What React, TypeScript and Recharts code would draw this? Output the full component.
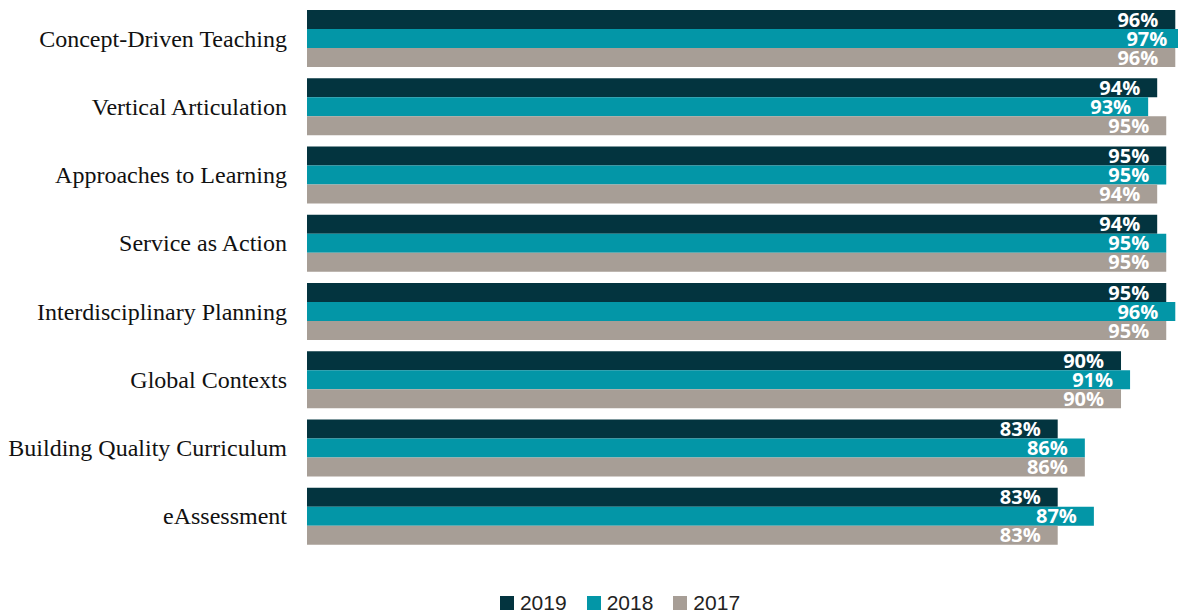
import { BarChart, Bar, XAxis, YAxis, Legend, LabelList } from 'recharts'

const categories = [
  'Concept-Driven Teaching',
  'Vertical Articulation',
  'Approaches to Learning',
  'Service as Action',
  'Interdisciplinary Planning',
  'Global Contexts',
  'Building Quality Curriculum',
  'eAssessment',
]
const y2019 = [96, 94, 95, 94, 95, 90, 83, 83]
const y2018 = [97, 93, 95, 95, 96, 91, 86, 87]
const y2017 = [96, 95, 94, 95, 95, 90, 86, 83]

const series = [
  { key: 'y2019', name: '2019', color: '#03343f' },
  { key: 'y2018', name: '2018', color: '#0396a7' },
  { key: 'y2017', name: '2017', color: '#a79e96' },
]

const data = categories.map((name, i) => ({
  name,
  y2019: y2019[i],
  y2018: y2018[i],
  y2017: y2017[i],
}))

function LegendBox() {
  return (
    <div style={{
      display: 'flex', justifyContent: 'center', alignItems: 'center', gap: 20,
      paddingLeft: 62, marginTop: 3,
      fontFamily: 'Liberation Sans, Arial, sans-serif', fontSize: 21, color: '#222',
    }}>
      {series.map((s) => (
        <div key={s.key} style={{ display: 'flex', alignItems: 'center', gap: 6 }}>
          <span style={{ width: 14, height: 14, background: s.color, display: 'inline-block' }} />
          <span>{s.name}</span>
        </div>
      ))}
    </div>
  )
}

export default function App() {
  return (
    <div style={{ position: 'absolute', left: 0, top: 0, background: '#fff' }}>
      <BarChart
        width={1178}
        height={612}
        data={data}
        layout="vertical"
        margin={{ top: 4, right: 0, left: 0, bottom: 38 }}
        barCategoryGap={6}
        barGap={0}
      >
        <XAxis type="number" hide domain={[0, 96.3]} allowDataOverflow />
        <YAxis
          type="category"
          dataKey="name"
          width={307}
          axisLine={false}
          tickLine={false}
          tickSize={0}
          tickMargin={20}
          tick={{ fontSize: 24, fill: '#111', fontFamily: 'Liberation Serif, Times New Roman, serif' }}
        />
        <Legend verticalAlign="bottom" height={24} wrapperStyle={{ bottom: 0 }} content={() => <LegendBox />} />
        {series.map((s) => (
          <Bar key={s.key} dataKey={s.key} name={s.name} fill={s.color} isAnimationActive={false}>
            <LabelList
              dataKey={s.key}
              position="insideRight"
              offset={17}
              fill="#fff"
              formatter={(v: unknown) => `${v}%`}
              style={{ fontSize: 20, fontWeight: 700, fontFamily: 'Open Sans, sans-serif' }}
            />
          </Bar>
        ))}
      </BarChart>
    </div>
  )
}
